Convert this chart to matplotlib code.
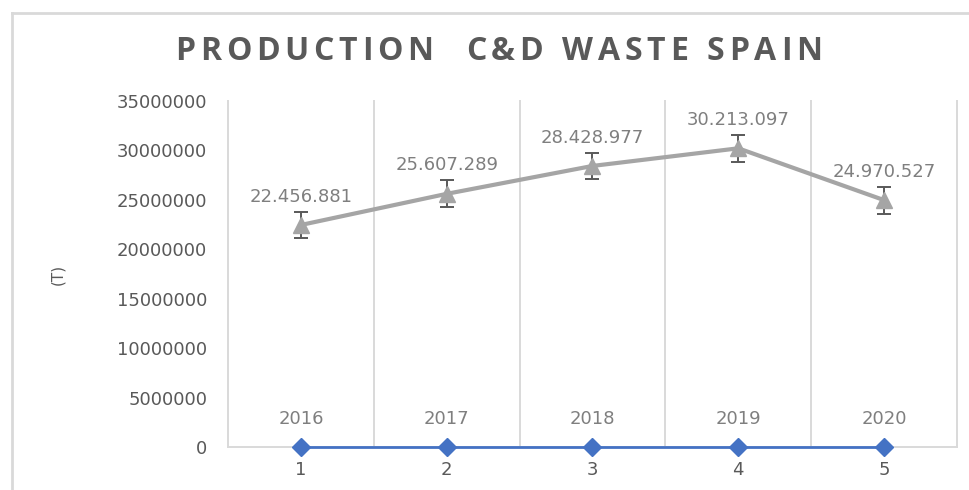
import matplotlib
matplotlib.use("Agg")
import matplotlib.pyplot as plt
from matplotlib.lines import Line2D

# data
categories = [1, 2, 3, 4, 5]
years = ["2016", "2017", "2018", "2019", "2020"]
waste_t = [22456881, 25607289, 28428977, 30213097, 24970527]
year_series = [0, 0, 0, 0, 0]
std_err = 1357000  # Excel "standard error" bars, same size on every point
y_ticks = [0, 5000000, 10000000, 15000000, 20000000, 25000000, 30000000, 35000000]

GRID = "#d9d9d9"
TEXT = "#595959"
LABEL = "#7f7f7f"

plt.rcParams["font.family"] = ["DejaVu Sans"]


def tracked_title(fig, s, x0, x1, y, space=3, **kw):
    """Excel-style letter-spaced title spread from x0 to x1 (pixels)."""
    r = fig.canvas.get_renderer()
    widths = []
    for ch in s:
        if ch == " ":
            widths.append(space)
            continue
        t = fig.text(0, 0, ch, **kw)
        widths.append(t.get_window_extent(r).width)
        t.remove()
    gap = (x1 - x0 - sum(widths)) / (len(s) - 1)
    W = fig.bbox.width
    x = x0
    for ch, w in zip(s, widths):
        if ch != " ":
            fig.text(x / W, y, ch, ha="left", va="center", **kw)
        x += w + gap


fig = plt.figure(figsize=(9.69, 4.9), dpi=100, facecolor="white")
ax = fig.add_axes([0.2353, 0.0878, 0.9876 - 0.2353, 0.7939 - 0.0878])

# chart frame (top and left edge of the Excel chart area)
fig.add_artist(Line2D([12 / 969, 1], [1 - 13 / 490] * 2, color=GRID, lw=2,
                      transform=fig.transFigure))
fig.add_artist(Line2D([12 / 969] * 2, [0, 1 - 13 / 490], color=GRID, lw=2,
                      transform=fig.transFigure))

ax.errorbar(categories, waste_t, yerr=std_err, fmt="none", ecolor="#595959",
            elinewidth=1.4, capsize=5, capthick=1.4, zorder=2)
ax.plot(categories, waste_t, color="#a5a5a5", lw=3, marker="^", ms=12,
        zorder=3)
for x, v in zip(categories, waste_t):
    ax.annotate(f"{v:,}".replace(",", "."), (x, v), xytext=(0, 14),
                textcoords="offset points", ha="center", va="bottom",
                fontsize=13, color=LABEL)

ax.plot(categories, year_series, color="#4472c4", lw=2, marker="D", ms=9.5,
        zorder=4, clip_on=False)
for x, v, yr in zip(categories, year_series, years):
    ax.annotate(yr, (x, v), xytext=(0, 14), textcoords="offset points",
                ha="center", va="bottom", fontsize=13, color=LABEL)

ax.set_xlim(0.5, 5.5)
ax.set_ylim(0, 35000000)
ax.set_yticks(y_ticks)
ax.set_yticklabels([str(t) for t in y_ticks])
ax.set_xticks(categories)
ax.set_xticklabels([str(c) for c in categories])
ax.tick_params(length=0, labelsize=13, colors=TEXT)
ax.tick_params(axis="x", pad=10)
ax.tick_params(axis="y", pad=15)

# vertical gridlines sit between categories
for b in [0.5, 1.5, 2.5, 3.5, 4.5, 5.5]:
    ax.axvline(b, color=GRID, lw=1.4, zorder=0, clip_on=False)
for s in ["top", "right", "left"]:
    ax.spines[s].set_visible(False)
ax.spines["bottom"].set_color(GRID)
ax.spines["bottom"].set_linewidth(1.4)

ax.set_ylabel("(T)", fontsize=11, color=TEXT, labelpad=37)

tracked_title(fig, "PRODUCTION  C&D WASTE SPAIN", 175, 822, 1 - 52 / 490,
              space=9, fontsize=23, fontweight="bold", color=TEXT,
              family="Open Sans")

fig.savefig("out.png", dpi=100, facecolor="white")
